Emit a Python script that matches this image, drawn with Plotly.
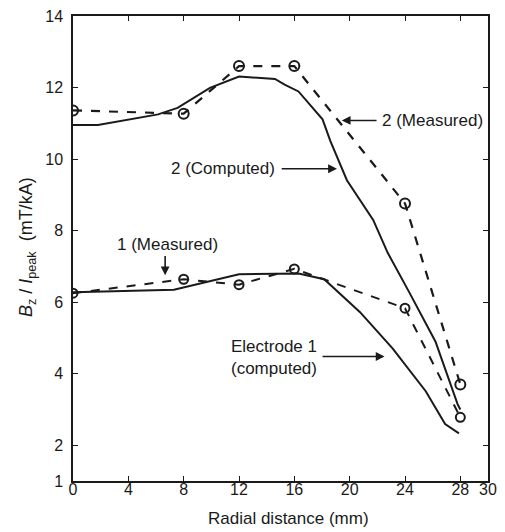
import plotly.graph_objects as go

# Data
x_meas = [0, 8, 12, 16, 24, 28]
meas2 = [11.36, 11.27, 12.6, 12.6, 8.76, 3.70]
meas1 = [6.25, 6.64, 6.49, 6.93, 5.83, 2.78]

x_comp2 = [0, 1.8, 6.15, 7.56, 9.9, 12.0, 14.6, 15.3, 16.3, 18.04, 18.6, 19.8, 21.7, 22.75, 24.3, 26.2, 27.8, 28.0]
comp2 = [10.95, 10.95, 11.25, 11.43, 11.99, 12.31, 12.24, 12.08, 11.89, 11.11, 10.51, 9.41, 8.30, 7.38, 6.28, 4.90, 3.15, 3.0]

x_comp1 = [0, 7.3, 12.0, 16.3, 18.16, 20.75, 23.1, 25.5, 26.9, 27.9]
comp1 = [6.28, 6.35, 6.78, 6.80, 6.64, 5.72, 4.71, 3.51, 2.59, 2.33]

x_ticks = [0, 4, 8, 12, 16, 20, 24, 28, 30]
y_ticks = [1, 2, 4, 6, 8, 10, 12, 14]

INK = "#1a1a1a"
FONT = "Liberation Sans, Arial, sans-serif"

fig = go.Figure()
fig.add_trace(go.Scatter(x=x_comp2, y=comp2, mode="lines",
                         line=dict(color=INK, width=2)))
fig.add_trace(go.Scatter(x=x_comp1, y=comp1, mode="lines",
                         line=dict(color=INK, width=2)))
fig.add_trace(go.Scatter(x=x_meas, y=meas2, mode="lines+markers",
                         line=dict(color=INK, width=2.2, dash="dash"),
                         marker=dict(symbol="circle-open", size=10, color=INK,
                                     line=dict(width=2, color=INK))))
fig.add_trace(go.Scatter(x=x_meas, y=meas1, mode="lines+markers",
                         line=dict(color=INK, width=2, dash="dash"),
                         marker=dict(symbol="circle-open", size=9, color=INK,
                                     line=dict(width=2, color=INK))))

def arrow(x0, y0, x1, y1):
    fig.add_annotation(x=x1, y=y1, ax=x0, ay=y0, xref="x", yref="y",
                       axref="x", ayref="y", text="", showarrow=True,
                       arrowhead=2, arrowsize=1.1, arrowwidth=1.6,
                       arrowcolor=INK)

def label(x, y, text, xanchor="center", align="center"):
    fig.add_annotation(x=x, y=y, xref="x", yref="y", text=text,
                       showarrow=False, xanchor=xanchor, yanchor="middle",
                       align=align,
                       font=dict(family=FONT, size=17, color=INK))

label(22.2, 11.08, "2 (Measured)", xanchor="left")
arrow(22.05, 11.08, 19.43, 11.08)
label(10.85, 9.73, "2 (Computed)")
arrow(14.98, 9.73, 19.08, 9.73)
label(6.82, 7.60, "1 (Measured)")
arrow(6.66, 7.33, 6.66, 6.75)
label(11.25, 4.45, "Electrode 1<br>(computed)", xanchor="left", align="left")
arrow(17.93, 4.48, 22.52, 4.48)

# axis titles
fig.add_annotation(x=(293 - 73) / 424, y=-(519 - 481) / 471, xref="paper", yref="paper",
                   text="Radial distance (mm)", showarrow=False,
                   xanchor="center", yanchor="middle",
                   font=dict(family=FONT, size=17, color=INK))
fig.add_annotation(x=-(73 - 26) / 424, y=(481 - 244) / 471, xref="paper", yref="paper",
                   text="<i>B</i><sub>z</sub>&nbsp;/&nbsp;<i>I</i><sub>peak</sub>&nbsp;&nbsp;(mT/kA)",
                   showarrow=False, textangle=-90,
                   xanchor="center", yanchor="middle",
                   font=dict(family=FONT, size=18, color=INK))

axis_common = dict(showline=True, linecolor=INK, linewidth=1.5, mirror="ticks",
                   ticks="inside", ticklen=5, tickwidth=1.2, tickcolor=INK,
                   showgrid=False, zeroline=False,
                   tickfont=dict(family=FONT, size=16, color=INK))

fig.update_xaxes(range=[0, 30], tickvals=x_ticks, ticklabelstandoff=-7, **axis_common)
fig.update_yaxes(range=[1, 14], tickvals=y_ticks, ticklabelstandoff=5, **axis_common)

fig.update_layout(width=505, height=532, showlegend=False,
                  margin=dict(l=73, r=8, t=10, b=51),
                  plot_bgcolor="white", paper_bgcolor="white")

fig.write_html("out.html", config={"displayModeBar": False},
               post_script="document.body.style.margin='0';")
